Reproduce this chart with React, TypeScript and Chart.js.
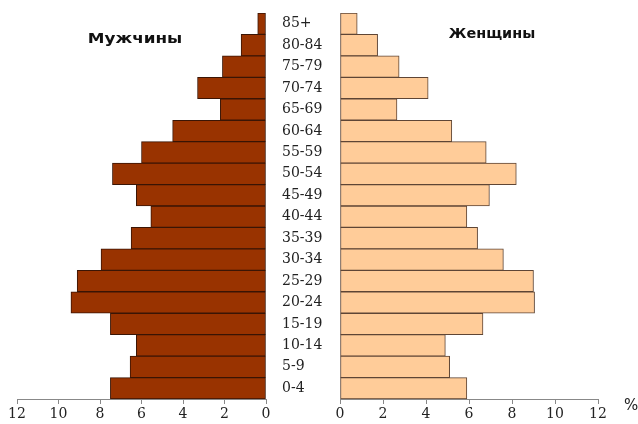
import React, { useEffect, useRef } from "react";
import { Chart, registerables } from "chart.js";

Chart.register(...registerables);

const ageGroups = [
  "85+", "80-84", "75-79", "70-74", "65-69", "60-64", "55-59", "50-54", "45-49",
  "40-44", "35-39", "30-34", "25-29", "20-24", "15-19", "10-14", "5-9", "0-4",
];
const males = [0.4, 1.2, 2.1, 3.3, 2.2, 4.5, 6.0, 7.4, 6.25, 5.55, 6.5, 7.95, 9.1, 9.4, 7.5, 6.25, 6.55, 7.5];
const females = [0.8, 1.75, 2.75, 4.1, 2.65, 5.2, 6.8, 8.2, 6.95, 5.9, 6.4, 7.6, 9.0, 9.05, 6.65, 4.9, 5.1, 5.9];
const axisTicks = [0, 2, 4, 6, 8, 10, 12];

const maleTitle = "Мужчины";
const femaleTitle = "Женщины";
const unitLabel = "%";

const serif = "'DejaVu Serif', 'Liberation Serif', serif";

function xAxis(reverse: boolean) {
  return {
    type: "linear" as const,
    min: axisTicks[0],
    max: axisTicks[axisTicks.length - 1],
    reverse,
    afterFit: (s: any) => {
      s.height = 25;
    },
    afterBuildTicks: (s: any) => {
      s.ticks = axisTicks.map((v) => ({ value: v }));
    },
    ticks: {
      font: { family: serif, size: 14 },
      color: "#222",
      padding: 2,
      maxRotation: 0,
    },
    grid: {
      display: true,
      drawOnChartArea: false,
      drawTicks: true,
      tickLength: 5,
      color: "#888",
    },
    border: { display: true, color: "#888", width: 1 },
  };
}

export default function App() {
  const leftRef = useRef<HTMLCanvasElement>(null);
  const rightRef = useRef<HTMLCanvasElement>(null);

  useEffect(() => {
    const left = new Chart(leftRef.current!, {
      type: "bar",
      data: {
        labels: ageGroups,
        datasets: [
          {
            data: males,
            backgroundColor: "#993300",
            borderColor: "#3a1505",
            borderWidth: 1,
            borderSkipped: false,
            barPercentage: 1,
            categoryPercentage: 1,
          },
        ],
      },
      options: {
        indexAxis: "y",
        responsive: false,
        animation: false,
        layout: { padding: { top: 13, left: 17, right: 0, bottom: 0 } },
        plugins: { legend: { display: false }, tooltip: { enabled: false } },
        scales: {
          x: xAxis(true),
          y: {
            position: "right",
            afterFit: (s: any) => {
              s.width = 74;
            },
            ticks: {
              font: { family: serif, size: 14 },
              color: "#222",
              padding: 0,
              crossAlign: "near",
            },
            grid: {
              display: true,
              drawOnChartArea: false,
              drawTicks: true,
              tickLength: 16,
              color: "rgba(0,0,0,0)",
            },
            border: { display: false },
          },
        },
      } as any,
    });

    const right = new Chart(rightRef.current!, {
      type: "bar",
      data: {
        labels: ageGroups,
        datasets: [
          {
            data: females,
            backgroundColor: "#FFCC99",
            borderColor: "#5e4535",
            borderWidth: 1,
            borderSkipped: false,
            barPercentage: 1,
            categoryPercentage: 1,
          },
        ],
      },
      options: {
        indexAxis: "y",
        responsive: false,
        animation: false,
        layout: { padding: { top: 13, left: 10, right: 40, bottom: 0 } },
        plugins: { legend: { display: false }, tooltip: { enabled: false } },
        scales: {
          x: xAxis(false),
          y: { display: false },
        },
      } as any,
    });

    return () => {
      left.destroy();
      right.destroy();
    };
  }, []);

  const titleStyle: React.CSSProperties = {
    position: "absolute",
    fontFamily: "'DejaVu Sans', sans-serif",
    fontWeight: "bold",
    fontSize: 14,
    color: "#111",
    whiteSpace: "nowrap",
  };

  return (
    <div style={{ position: "absolute", left: 0, top: 0, width: 638, height: 424, background: "#fff" }}>
      <canvas ref={leftRef} width={340} height={424} style={{ position: "absolute", left: 0, top: 0 }} />
      <canvas ref={rightRef} width={308} height={424} style={{ position: "absolute", left: 330, top: 0 }} />
      <div style={{ ...titleStyle, left: 135, top: 38, transform: "translate(-50%, -50%) scaleX(1.2)" }}>
        {maleTitle}
      </div>
      <div style={{ ...titleStyle, left: 492, top: 33, transform: "translate(-50%, -50%) scaleX(1.03)" }}>
        {femaleTitle}
      </div>
      <div
        style={{
          position: "absolute",
          left: 624,
          top: 396,
          fontFamily: "'DejaVu Sans', sans-serif",
          fontSize: 15,
          color: "#222",
        }}
      >
        {unitLabel}
      </div>
    </div>
  );
}
